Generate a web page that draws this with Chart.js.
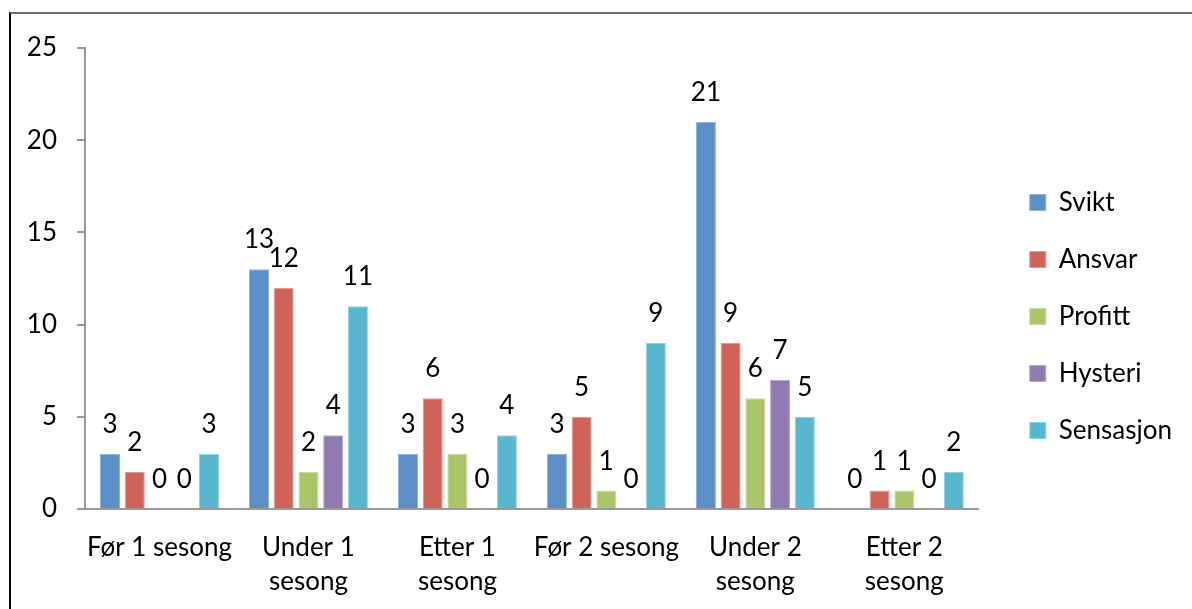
<!DOCTYPE html>
<html>
<head>
<meta charset="utf-8">
<script src="https://cdn.jsdelivr.net/npm/chart.js@4"></script>
<style>
  body { margin: 0; background: #fff; }
  #frame {
    position: absolute; left: 9px; top: 12px; width: 1183px; height: 597px;
    border-left: 2px solid #000; border-top: 2px solid #6b6b6b; box-sizing: border-box;
  }
  #wrap { position: absolute; left: 0; top: 0; width: 1192px; height: 609px; }
</style>
</head>
<body>
<div id="frame"></div>
<div id="wrap"><canvas id="chart"></canvas></div>
<script>
// categories + series
const categories = [
  "Før 1 sesong", ["Under 1", "sesong"], ["Etter 1", "sesong"],
  "Før 2 sesong", ["Under 2", "sesong"], ["Etter 2", "sesong"]
];
const seriesNames = ["Svikt", "Ansvar", "Profitt", "Hysteri", "Sensasjon"];
const svikt     = [3, 13, 3, 3, 21, 0];
const ansvar    = [2, 12, 6, 5, 9, 1];
const profitt   = [0, 2, 3, 1, 6, 1];
const hysteri   = [0, 4, 0, 0, 7, 0];
const sensasjon = [3, 11, 4, 9, 5, 2];
const yTicks = [0, 5, 10, 15, 20, 25];

const colors  = ["#5a8fc8", "#cf6359", "#aac46a", "#917ab2", "#58b7ce"];
const borders = ["#8fb2da", "#e09790", "#c8d99c", "#b6a6cb", "#93d0df"];
const FONT = "Lato, 'Open Sans', sans-serif";
const FS = 26;

// simple value labels above each bar
const valueLabels = {
  id: 'valueLabels',
  afterLayout(chart) {
    // nudge legend up a little, like the original
    const lg = chart.legend;
    if (lg) { lg.top -= 12; lg.bottom -= 12; }
  },
  afterDatasetsDraw(chart) {
    const ctx = chart.ctx;
    ctx.save();
    ctx.font = FS + "px " + FONT;
    ctx.fillStyle = "#000";
    ctx.textAlign = "center";
    ctx.textBaseline = "alphabetic";
    chart.data.datasets.forEach((ds, i) => {
      chart.getDatasetMeta(i).data.forEach((bar, j) => {
        ctx.fillText(String(ds.data[j]), bar.x, bar.y - 21);
      });
    });
    ctx.restore();
  }
};

const allSeries = [svikt, ansvar, profitt, hysteri, sensasjon];

new Chart(document.getElementById('chart'), {
  type: 'bar',
  data: {
    labels: categories,
    datasets: allSeries.map((d, i) => ({
      label: seriesNames[i],
      data: d,
      backgroundColor: colors[i],
      borderColor: borders[i],
      borderWidth: 1,
      barPercentage: 0.81,
      categoryPercentage: 0.83
    }))
  },
  options: {
    responsive: true,
    maintainAspectRatio: false,
    animation: false,
    layout: { padding: { top: 48, left: 20, right: 10, bottom: 0 } },
    plugins: {
      tooltip: { enabled: false },
      legend: {
        position: 'right',
        align: 'center',
        labels: {
          font: { family: FONT, size: FS },
          color: "#000",
          boxWidth: 16,
          boxHeight: 16,
          padding: 31
        }
      }
    },
    scales: {
      x: {
        afterFit(scale) { scale.height = 100; },
        grid: { display: false, drawTicks: false },
        border: { color: "#999", width: 2 },
        ticks: {
          font: { family: FONT, size: FS, lineHeight: 1.3 },
          color: "#000",
          padding: 22,
          maxRotation: 0,
          autoSkip: false
        }
      },
      y: {
        min: 0, max: 25,
        afterBuildTicks(scale) { scale.ticks = yTicks.map(v => ({ value: v })); },
        afterFit(scale) { scale.width = 65; },
        grid: { drawOnChartArea: false, drawTicks: true, tickLength: 8, color: "#999", lineWidth: 2 },
        border: { color: "#999", width: 2 },
        ticks: {
          font: { family: FONT, size: FS },
          color: "#000",
          padding: 20
        }
      },
      // empty spacer between plot and legend
      gap: {
        position: 'right',
        display: true,
        afterFit(scale) { scale.width = 20; },
        grid: { display: false },
        border: { display: false },
        ticks: { display: false }
      }
    }
  },
  plugins: [valueLabels]
});
</script>
</body>
</html>
